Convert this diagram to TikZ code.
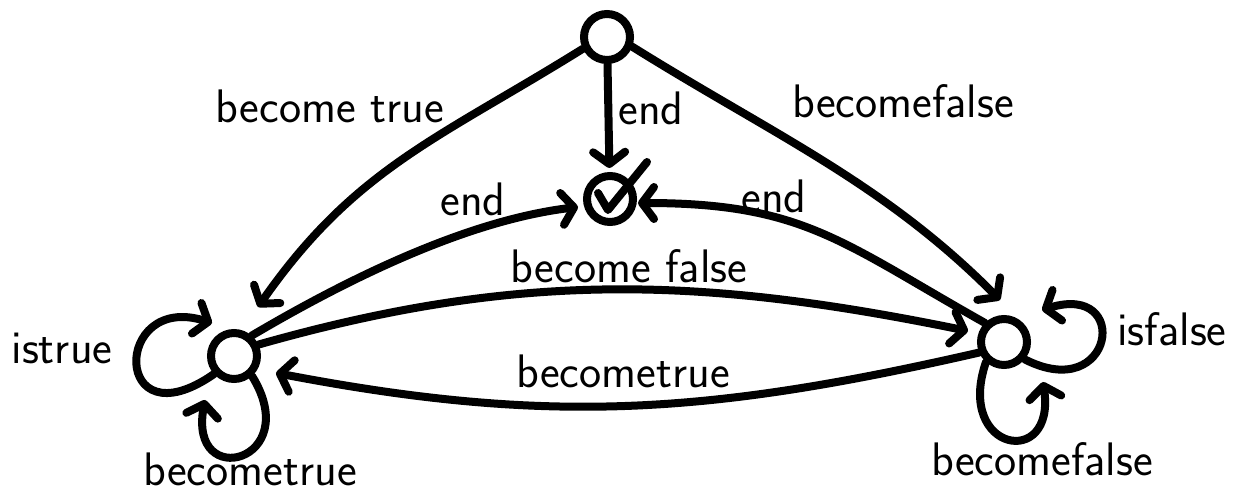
\documentclass[tikz,border=0pt]{standalone}
\usepackage{fontspec}
\usetikzlibrary{arrows.meta}
\begin{document}
\begin{tikzpicture}[x=1pt,y=1pt,
  state/.style={circle,draw,line width=8pt,minimum size=46pt,inner sep=0pt},
  ln/.style={line width=8pt,line cap=round,line join=round},
  arr/.style={ln,-{Straight Barb[length=12pt,width=32pt,round]}},
  lbl/.style={font=\sffamily\fontsize{47}{50}\selectfont,anchor=base,inner sep=0pt}
]
\fill[white] (0,0) rectangle (1238,-497);
\path[use as bounding box] (0,0) rectangle (1238,-497);

\node[state] (T) at (607,-37) {};
\node[state] (K) at (610,-199) {};
\node[state] (L) at (234,-356) {};
\node[state] (R) at (1004,-342) {};

% check mark
\draw[ln] ([shift={(-12,6)}]K.center) -- ([shift={(-2,-11)}]K.center) -- ([shift={(37,37)}]K.center);

% edges
\draw[arr] (T.206) .. controls (438,-139) and (355,-168) .. ([shift={(24,49)}]L.center);
\draw[arr,shorten >=4pt] (T) -- (K);
\draw[arr] (T.339) .. controls (772,-134) and (884,-183) .. ([shift={(-4,42)}]R.center);
\draw[arr] (L.49) .. controls (351,-277) and (469,-220) .. ([shift={(-32,-8)}]K.center);
\draw[arr] (R.135) .. controls (841,-242) and (803,-203) .. ([shift={(28,-4)}]K.center);
\draw[arr] (L.25) .. controls (521,-270) and (703,-277) .. ([shift={(-36,11)}]R.center);
\draw[arr] (R.203) .. controls (706,-415) and (548,-425) .. ([shift={(42,-17)}]L.center);

% self loops
\draw[arr] (L.222) .. controls (112,-445) and (112,-292) .. ([shift={(-22,33)}]L.center);
\draw[arr] (L.312) .. controls (305,-462) and (188,-492) .. ([shift={(-29,-44)}]L.center);
\draw[arr] (R.320) .. controls (1114,-405) and (1132,-282) .. ([shift={(38,32)}]R.center);
\draw[arr] (R.228) .. controls (955,-452) and (1056,-470) .. ([shift={(39,-40)}]R.center);

% labels
\node[lbl] (l1) at (330,-123) {become true};
\node[lbl] (l2) at (651,-125) {end};
\node[lbl] (l3) at (903,-118) {becomefalse};
\node[lbl] (l4) at (473,-215) {end};
\node[lbl] (l5) at (774,-212) {end};
\node[lbl] (l6) at (629,-282) {become false};
\node[lbl] (l7) at (623,-387) {becometrue};
\node[lbl] (l8) at (62,-363) {istrue};
\node[lbl] (l9) at (1172,-345) {isfalse};
\node[lbl] (l10) at (250,-485) {becometrue};
\node[lbl] (l11) at (1042,-475) {becomefalse};
\end{tikzpicture}
\end{document}
